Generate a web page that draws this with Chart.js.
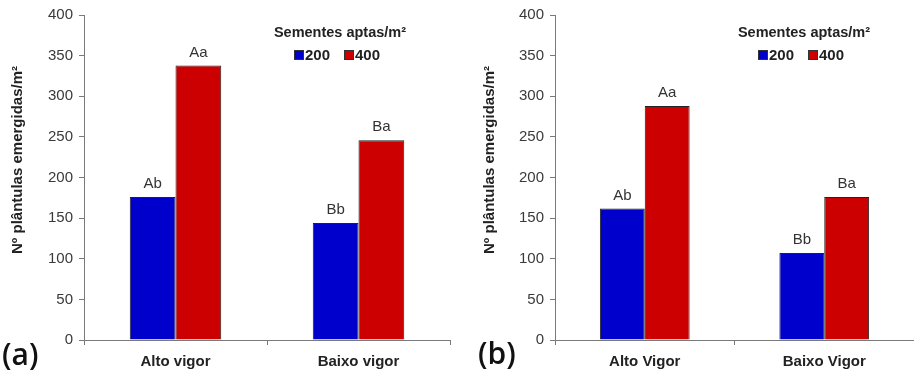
<!DOCTYPE html>
<html>
<head>
<meta charset="utf-8">
<script src="https://cdn.jsdelivr.net/npm/chart.js@4/dist/chart.umd.min.js"></script>
<style>
  body { margin: 0; background: #fff; }
  #wrap { position: relative; width: 914px; height: 374px; overflow: hidden; }
  .panel { position: absolute; top: 0; width: 457px; height: 374px; }
  .tag { position: absolute; font-family: "Open Sans", sans-serif; font-weight: 600; font-size: 30px; color: #111; line-height: 1; }
</style>
</head>
<body>
<div id="wrap">
  <div class="panel" style="left:0"><canvas id="chartA" width="457" height="374"></canvas></div>
  <div class="panel" style="left:457px"><canvas id="chartB" width="457" height="374"></canvas></div>
  <div class="tag" style="left:2px; top:339px">(a)</div>
  <div class="tag" style="left:478px; top:338px">(b)</div>
</div>
<script>
// seeds per m2 (legend)
let seedRates = ['200', '400'];

// panel (a)
let groupsA = ['Alto vigor', 'Baixo vigor'];
let a200 = [176, 144];
let a400 = [338, 246];
let lettersA200 = ['Ab', 'Bb'];
let lettersA400 = ['Aa', 'Ba'];

// panel (b)
let groupsB = ['Alto Vigor', 'Baixo Vigor'];
let b200 = [162, 107];
let b400 = [288, 176];
let lettersB200 = ['Ab', 'Bb'];
let lettersB400 = ['Aa', 'Ba'];

let yTitle = 'Nº plântulas emergidas/m²';
let legendTitle = 'Sementes aptas/m²';

let blue = '#0000cc';
let red = '#cc0000';
let axisGray = '#7a7a7a';

// letters above each bar
let barLetters = {
    id: 'barLetters',
    afterDatasetsDraw(chart) {
        let ctx = chart.ctx;
        ctx.save();
        ctx.font = '15px "Liberation Sans", Arial, sans-serif';
        ctx.fillStyle = '#333';
        ctx.textAlign = 'center';
        ctx.textBaseline = 'middle';
        chart.data.datasets.forEach((ds, i) => {
            chart.getDatasetMeta(i).data.forEach((bar, j) => {
                ctx.fillText(ds.letters[j], bar.x, bar.y - 13);
            });
        });
        ctx.restore();
    }
};

// legend box + rotated y title
let sideText = {
    id: 'sideText',
    afterDraw(chart, args, opts) {
        let ctx = chart.ctx;
        let area = chart.chartArea;
        ctx.save();

        // legend
        let cx = area.right - 110;
        ctx.font = 'bold 14.5px "Liberation Sans", Arial, sans-serif';
        ctx.fillStyle = '#222';
        ctx.textAlign = 'center';
        ctx.textBaseline = 'middle';
        ctx.fillText(legendTitle, cx, 33);

        let offs = [-46, 4];
        ctx.font = 'bold 15px "Liberation Sans", Arial, sans-serif';
        ctx.textAlign = 'left';
        chart.data.datasets.forEach((ds, i) => {
            let x = cx + offs[i];
            ctx.fillStyle = ds.backgroundColor;
            ctx.fillRect(x, 50, 10, 10);
            ctx.strokeStyle = '#333';
            ctx.lineWidth = 1;
            ctx.strokeRect(x + 0.5, 50.5, 9, 9);
            ctx.fillStyle = '#222';
            ctx.fillText(ds.label, x + 11, 56);
        });

        // y axis title
        ctx.translate(opts.titleX, 160);
        ctx.rotate(-Math.PI / 2);
        ctx.font = 'bold 15px "Liberation Sans", Arial, sans-serif';
        ctx.textAlign = 'center';
        ctx.fillStyle = '#222';
        ctx.fillText(yTitle, 0, 0);
        ctx.restore();
    }
};

function drawChart(id, groups, v200, v400, l200, l400, axisWidth, titleX, padRight) {
    let ctx = document.getElementById(id).getContext('2d');
    return new Chart(ctx, {
        type: 'bar',
        data: {
            labels: groups,
            datasets: [{
                label: seedRates[0],
                data: v200,
                letters: l200,
                backgroundColor: blue,
                borderColor: '#222',
                borderWidth: 1,
                borderSkipped: 'bottom'
            }, {
                label: seedRates[1],
                data: v400,
                letters: l400,
                backgroundColor: red,
                borderColor: '#222',
                borderWidth: 1,
                borderSkipped: 'bottom'
            }]
        },
        options: {
            responsive: false,
            animation: false,
            layout: { padding: { top: 15, right: padRight, bottom: 0, left: 0 } },
            datasets: { bar: { categoryPercentage: 0.5, barPercentage: 1 } },
            plugins: {
                legend: { display: false },
                tooltip: { enabled: false },
                sideText: { titleX: titleX }
            },
            scales: {
                x: {
                    afterFit: s => { s.height = 34; },
                    grid: { drawOnChartArea: false, tickLength: 5, color: axisGray },
                    border: { color: axisGray },
                    ticks: {
                        padding: 8,
                        color: '#222',
                        font: { family: '"Liberation Sans", Arial, sans-serif', size: 15, weight: 'bold' }
                    }
                },
                y: {
                    min: 0,
                    max: 400,
                    afterFit: s => { s.width = axisWidth; },
                    grid: { drawOnChartArea: false, tickLength: 5, color: axisGray },
                    border: { color: axisGray },
                    ticks: {
                        stepSize: 50,
                        padding: 6,
                        color: '#3a3a3a',
                        font: { family: '"Liberation Sans", Arial, sans-serif', size: 15 }
                    }
                }
            }
        },
        plugins: [barLetters, sideText]
    });
}

drawChart('chartA', groupsA, a200, a400, lettersA200, lettersA400, 84, 18, 7);
drawChart('chartB', groupsB, b200, b400, lettersB200, lettersB400, 98, 33, 0);
</script>
</body>
</html>
